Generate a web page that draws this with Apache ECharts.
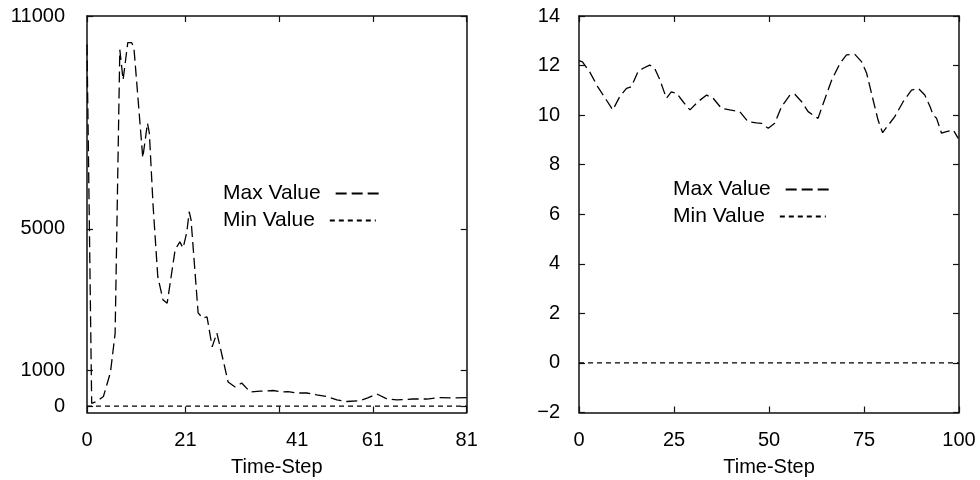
<!DOCTYPE html>
<html>
<head>
<meta charset="utf-8">
<script src="https://cdn.jsdelivr.net/npm/echarts@6/dist/echarts.min.js"></script>
<style>
  html, body { margin: 0; padding: 0; background: #fff; }
  #chart { width: 980px; height: 480px; }
</style>
</head>
<body>
<div id="chart"></div>
<script>
// Left panel: max / min value per time step
const leftSteps = [0, 1, 2, 3.5, 5, 6, 7, 7.7, 8.7, 9.5, 10, 11.9, 12.9, 13.3, 14.1, 15.1, 16.2, 17.1,
  18.8, 19.8, 20.5, 21.3, 21.8, 22.2, 23.7, 24.7, 25.6, 26.7, 27.7, 28.4, 30.1, 31.6, 33, 34.8,
  36.9, 39.7, 41.8, 42.9, 44.8, 46.9, 49, 51.2, 53.3, 55.4, 58.2, 59.9, 61.8, 64, 66.1, 69.5,
  72.5, 75.3, 78, 81];
const leftMax = [10200, 80, 130, 270, 950, 2050, 10050, 9200, 10250, 10250, 10120, 7000, 7980, 7700,
  5650, 3650, 3000, 2900, 4410, 4630, 4460, 4910, 5480, 5250, 2630, 2480, 2520, 1670, 2060, 1670,
  680, 540, 650, 400, 420, 440, 400, 410, 370, 370, 320, 270, 175, 130, 155, 230, 345, 200, 175,
  200, 200, 240, 230, 240];
const leftMinSteps = [0, 81];
const leftMin = [0, 0];
const leftXTicks = [0, 21, 41, 61, 81];
const leftYTicks = [0, 1000, 5000, 11000];

// Right panel: max / min value per time step
const rightSteps = [0, 0.9, 2.8, 4.9, 7.2, 8.9, 10.7, 12.5, 13.8, 15.5, 16.9, 18.6, 19.9, 21.3, 23,
  24.3, 25.7, 27.4, 29.2, 31.3, 33.6, 35.3, 37.5, 39.7, 42.3, 44.5, 46.7, 48, 49.8, 51.5, 53.3,
  55.5, 56.8, 58.6, 60.3, 62.9, 64.3, 66.5, 68.7, 70.4, 72.6, 74.4, 75.7, 77.4, 78.7, 79.9, 81.4,
  83.1, 85.3, 87.5, 89.3, 91, 92.4, 93.2, 94.1, 95.4, 96.7, 98.5, 99.8];
const rightMax = [12.2, 12.15, 11.75, 11.15, 10.61, 10.21, 10.74, 11.08, 11.15, 11.75, 11.89, 12.02,
  11.89, 11.42, 10.68, 10.94, 10.88, 10.54, 10.21, 10.54, 10.81, 10.68, 10.27, 10.21, 10.14, 9.73,
  9.69, 9.67, 9.47, 9.67, 10.34, 10.81, 10.84, 10.54, 10.14, 9.87, 10.48, 11.42, 12.09, 12.43,
  12.45, 12.15, 11.69, 10.61, 9.8, 9.29, 9.6, 9.94, 10.54, 11.01, 11.08, 10.81, 10.34, 10.0, 9.87,
  9.27, 9.33, 9.4, 9.06];
const rightMinSteps = [0, 100];
const rightMin = [0, 0];

const seriesNames = ['Max Value', 'Min Value'];

const pairs = (xs, ys) => xs.map((x, i) => [x, ys[i]]);
const FONT = '"Liberation Sans", Arial, Helvetica, sans-serif';
const INK = '#000';
const MAX_DASH = [11, 5];
const MIN_DASH = [5, 4];

const axisLine = { show: true, onZero: false, lineStyle: { color: '#111', width: 1.5 } };
const tickIn = (extra) => Object.assign({ show: true, inside: true, length: 6,
  lineStyle: { color: '#111', width: 1.2 } }, extra || {});

function xPair(grid, min, max, spec) {
  const base = { type: 'value', gridIndex: grid, min, max, splitLine: { show: false }, axisLine };
  const bottom = Object.assign({}, base, {
    position: 'bottom',
    name: 'Time-Step', nameLocation: 'middle', nameGap: 45,
    nameTextStyle: { fontFamily: FONT, fontSize: 20, color: INK },
    axisTick: tickIn(spec.tick),
    axisLabel: Object.assign({ show: true, margin: 18, fontFamily: FONT, fontSize: 20, color: INK }, spec.label)
  });
  const top = Object.assign({}, base, {
    position: 'top',
    axisTick: tickIn(spec.tick),
    axisLabel: { show: false }
  });
  if (spec.interval) { bottom.interval = spec.interval; top.interval = spec.interval; }
  return [bottom, top];
}

function yPair(grid, min, max, spec) {
  const base = { type: 'value', gridIndex: grid, min, max, splitLine: { show: false }, axisLine };
  const left = Object.assign({}, base, {
    position: 'left',
    axisTick: tickIn(spec.tick),
    axisLabel: Object.assign({ show: true, margin: spec.margin, padding: [3, 0, 0, 0],
      fontFamily: FONT, fontSize: 20, color: INK,
      formatter: v => (v < 0 ? '\u2212' + Math.abs(v) : String(v)) }, spec.label)
  });
  const right = Object.assign({}, base, {
    position: 'right',
    axisTick: tickIn(spec.tick),
    axisLabel: { show: false }
  });
  if (spec.interval) { left.interval = spec.interval; right.interval = spec.interval; }
  return [left, right];
}

// The "41" label of the left panel sits a little right of its tick
const leftXLabel = {
  customValues: leftXTicks,
  formatter: v => (v === 41 ? '{off|41}' : String(v)),
  rich: { off: { fontFamily: FONT, fontSize: 20, color: INK, padding: [0, 0, 4, 36] } }
};

const leftX = xPair(0, 0, 81, { tick: { customValues: leftXTicks }, label: leftXLabel });
const rightX = xPair(1, 0, 100, { interval: 25 });
const leftY = yPair(0, -180, 11000, { margin: 22, tick: { customValues: leftYTicks }, label: { customValues: leftYTicks } });
const rightY = yPair(1, -2, 14, { margin: 19, interval: 2 });

function line(name, x, y, data, dash) {
  return {
    name, type: 'line', xAxisIndex: x, yAxisIndex: y, data,
    symbol: 'none', smooth: false, silent: true, animation: false,
    lineStyle: { color: INK, width: 1.3, type: dash },
    itemStyle: { color: INK }
  };
}

function legendAt(left, top, name) {
  return {
    left, top, orient: 'horizontal', align: 'right', selectedMode: false,
    data: [name],
    itemWidth: 46, itemHeight: 14,
    itemStyle: { color: 'transparent', borderWidth: 0, opacity: 0 },
    textStyle: { fontFamily: FONT, fontSize: 21, color: INK, padding: [0, 10, 0, 0] }
  };
}

const chart = echarts.init(document.getElementById('chart'), null, { renderer: 'canvas' });
chart.setOption({
  animation: false,
  backgroundColor: '#fff',
  grid: [
    { left: 87, right: 513.3, top: 16, bottom: 67.5, containLabel: false, outerBoundsMode: 'none' },
    { left: 579, right: 21, top: 16, bottom: 67.5, containLabel: false, outerBoundsMode: 'none' }
  ],
  xAxis: [leftX[0], leftX[1], rightX[0], rightX[1]],
  yAxis: [leftY[0], leftY[1], rightY[0], rightY[1]],
  legend: [
    legendAt(218, 178, seriesNames[0]), legendAt(218, 205, seriesNames[1]),
    legendAt(668, 174, seriesNames[0]), legendAt(668, 201, seriesNames[1])
  ],
  series: [
    line(seriesNames[0], 0, 0, pairs(leftSteps, leftMax), MAX_DASH),
    line(seriesNames[1], 0, 0, pairs(leftMinSteps, leftMin), MIN_DASH),
    line(seriesNames[0], 2, 2, pairs(rightSteps, rightMax), MAX_DASH),
    line(seriesNames[1], 2, 2, pairs(rightMinSteps, rightMin), MIN_DASH)
  ]
});
</script>
</body>
</html>
